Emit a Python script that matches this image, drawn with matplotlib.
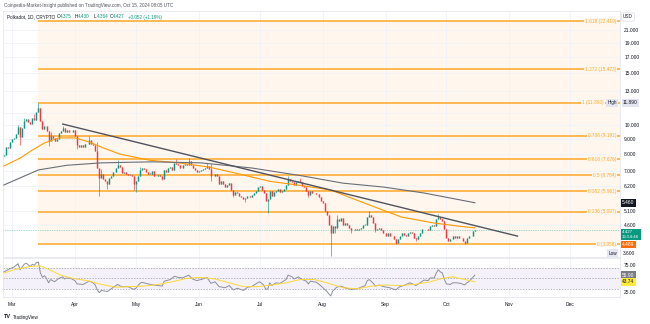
import matplotlib
matplotlib.use('Agg')
import matplotlib.pyplot as plt
import matplotlib.dates as mdates
import matplotlib.ticker as mticker
from matplotlib.transforms import blended_transform_factory
import numpy as np
import pandas as pd

plt.rcParams['font.family'] = ['Liberation Sans', 'DejaVu Sans']

# ---------------- data ----------------
start_date = '2024-02-26'
first_open = 7.85
closes = [
    # Feb 26-29
    7.95, 8.40, 8.35, 8.75,
    # Mar
    8.95, 9.05, 9.30, 9.85, 9.10, 9.75, 10.35, 10.45, 10.25, 10.05, 10.55, 10.40, 11.10, 11.45, 10.30, 9.70,
    9.95, 9.55, 8.80, 9.20, 9.05, 8.85, 9.00, 9.40, 9.55, 9.75, 9.45, 9.65, 9.45, 9.50, 9.60,
    # Apr
    9.20, 8.55, 8.45, 8.55, 8.40, 8.60, 8.65, 8.90, 8.60, 8.55, 8.20, 7.15, 6.60, 6.85, 6.55, 6.45,
    6.30, 6.60, 6.70, 6.95, 7.15, 7.35, 7.20, 6.90, 6.95, 6.85, 6.80, 6.80, 6.70, 6.30,
    # May
    6.45, 6.75, 7.05, 7.15, 7.10, 6.95, 6.85, 6.85, 7.00, 6.75, 6.70, 6.80, 6.75, 6.55, 7.05, 6.95,
    7.15, 7.20, 7.05, 7.45, 7.40, 7.35, 7.15, 7.30, 7.40, 7.35, 7.55, 7.30, 7.15, 7.05, 6.95,
    # Jun
    7.00, 7.05, 7.10, 7.15, 7.25, 7.10, 6.70, 6.75, 6.85, 6.70, 6.30, 6.45, 6.30, 6.15, 6.25, 6.35,
    6.05, 5.80, 5.95, 5.90, 5.75, 5.70, 5.60, 5.65, 5.75, 5.70, 5.80, 5.90, 6.00, 6.15,
    # Jul
    6.20, 6.05, 5.90, 5.55, 5.60, 6.00, 5.75, 5.95, 6.00, 6.10, 5.95, 6.00, 6.10, 6.25, 6.55, 6.45,
    6.40, 6.25, 6.40, 6.45, 6.40, 6.20, 6.15, 6.00, 5.80, 6.00, 5.90, 5.90, 5.85, 5.70, 5.55,
    # Aug
    5.45, 5.10, 4.95, 4.60, 4.30, 4.55, 4.50, 4.80, 4.75, 4.85, 4.60, 4.65, 4.60, 4.50, 4.40, 4.40,
    4.45, 4.40, 4.45, 4.50, 4.60, 4.60, 4.90, 4.95, 4.90, 4.65, 4.40, 4.45, 4.50, 4.40, 4.30,
    # Sep
    4.20, 4.30, 4.20, 4.20, 4.10, 3.98, 4.10, 4.20, 4.30, 4.25, 4.20, 4.30, 4.35, 4.30, 4.15, 4.10,
    4.20, 4.30, 4.45, 4.45, 4.45, 4.40, 4.55, 4.60, 4.55, 4.80, 4.90, 4.80, 4.75, 4.45,
    # Oct 1-15
    4.15, 4.05, 4.10, 4.20, 4.15, 4.20, 4.15, 4.15, 4.05, 4.00, 4.15, 4.20, 4.20, 4.375, 4.427,
]

wick_highs = {
    '2024-03-04': 10.0, '2024-03-07': 10.6, '2024-03-12': 10.9, '2024-03-14': 11.89,
    '2024-03-15': 11.3, '2024-03-20': 9.5, '2024-03-26': 9.95, '2024-04-08': 9.2,
    '2024-04-12': 8.75, '2024-04-14': 7.1, '2024-04-22': 7.6, '2024-05-03': 7.2,
    '2024-05-21': 7.7, '2024-05-27': 7.75, '2024-06-05': 7.45, '2024-06-07': 7.4,
    '2024-07-15': 6.75, '2024-07-21': 6.6, '2024-08-08': 4.95, '2024-08-24': 5.1,
    '2024-09-27': 5.0, '2024-10-15': 4.43,
}
wick_lows = {
    '2024-03-05': 8.55, '2024-03-19': 8.5, '2024-04-02': 8.3, '2024-04-13': 5.75,
    '2024-04-17': 6.1, '2024-04-30': 6.05, '2024-05-01': 5.95, '2024-05-14': 6.5,
    '2024-06-07': 6.45, '2024-06-18': 5.7, '2024-06-24': 5.5, '2024-07-05': 5.05,
    '2024-07-25': 5.7, '2024-08-05': 3.60, '2024-08-07': 4.3, '2024-08-15': 4.3,
    '2024-08-27': 4.35, '2024-09-06': 3.958, '2024-09-16': 4.05, '2024-10-10': 3.97,
    '2024-10-15': 4.364,
}

ma_fast_dates = ['2024-02-26', '2024-03-05', '2024-03-11', '2024-03-17', '2024-03-24', '2024-04-01',
                 '2024-04-08', '2024-04-15', '2024-04-23', '2024-05-08', '2024-05-22', '2024-06-06',
                 '2024-06-21', '2024-07-06', '2024-07-21', '2024-08-05', '2024-08-15', '2024-08-28',
                 '2024-09-09', '2024-09-25', '2024-10-07', '2024-10-15']
ma_fast_vals = [7.27, 7.73, 8.23, 8.70, 9.05, 9.05, 8.77, 8.37, 7.98, 7.60, 7.45, 7.21,
                6.83, 6.45, 6.25, 6.03, 5.67, 5.24, 4.88, 4.66, 4.55, 4.489]

ma_slow_dates = ['2024-02-26', '2024-03-14', '2024-03-28', '2024-04-14', '2024-05-09', '2024-06-02',
                 '2024-06-27', '2024-07-22', '2024-08-11', '2024-08-31', '2024-09-20', '2024-10-15']
ma_slow_vals = [6.27, 7.05, 7.31, 7.45, 7.51, 7.45, 7.16, 6.73, 6.36, 6.17, 5.89, 5.46]

trend_dates = ['2024-03-26', '2024-11-05']
trend_vals = [10.08, 4.21]

fib_ratios = ['1.618', '1.272', '1', '0.786', '0.618', '0.5', '0.382', '0.236', '0']
fib_prices = [22.419, 15.473, 11.890, 9.191, 7.676, 6.764, 5.961, 5.097, 3.958]
fib_start = '2024-03-14'

rsi_dates = ['2024-02-26', '2024-02-29', '2024-03-02', '2024-03-04', '2024-03-05', '2024-03-07', '2024-03-08',
             '2024-03-10', '2024-03-11', '2024-03-12', '2024-03-13', '2024-03-14', '2024-03-15', '2024-03-16',
             '2024-03-17', '2024-03-18', '2024-03-19', '2024-03-20', '2024-03-22', '2024-03-24', '2024-03-26',
             '2024-03-27', '2024-03-28', '2024-03-30', '2024-04-01', '2024-04-02', '2024-04-05', '2024-04-08',
             '2024-04-10', '2024-04-11', '2024-04-12', '2024-04-13', '2024-04-14', '2024-04-17', '2024-04-20',
             '2024-04-22', '2024-04-24', '2024-04-27', '2024-04-30', '2024-05-01', '2024-05-03', '2024-05-04',
             '2024-05-07', '2024-05-10', '2024-05-14', '2024-05-15', '2024-05-18', '2024-05-20', '2024-05-22',
             '2024-05-24', '2024-05-27', '2024-05-29', '2024-05-31', '2024-06-03', '2024-06-05', '2024-06-07',
             '2024-06-09', '2024-06-11', '2024-06-14', '2024-06-16', '2024-06-18', '2024-06-20', '2024-06-23',
             '2024-06-25', '2024-06-27', '2024-06-30', '2024-07-01', '2024-07-03', '2024-07-04', '2024-07-05',
             '2024-07-06', '2024-07-07', '2024-07-09', '2024-07-11', '2024-07-14', '2024-07-15', '2024-07-17',
             '2024-07-18', '2024-07-20', '2024-07-22', '2024-07-24', '2024-07-25', '2024-07-26', '2024-07-29',
             '2024-07-31', '2024-08-02', '2024-08-03', '2024-08-04', '2024-08-05', '2024-08-06', '2024-08-08',
             '2024-08-10', '2024-08-12', '2024-08-15', '2024-08-18', '2024-08-20', '2024-08-22', '2024-08-23',
             '2024-08-24', '2024-08-26', '2024-08-27', '2024-08-29', '2024-08-31', '2024-09-03', '2024-09-06',
             '2024-09-08', '2024-09-10', '2024-09-13', '2024-09-16', '2024-09-18', '2024-09-20', '2024-09-22',
             '2024-09-23', '2024-09-25', '2024-09-26', '2024-09-27', '2024-09-28', '2024-09-29', '2024-09-30',
             '2024-10-01', '2024-10-03', '2024-10-04', '2024-10-06', '2024-10-08', '2024-10-10', '2024-10-11',
             '2024-10-12', '2024-10-14', '2024-10-15']
rsi_vals = [62, 68, 71, 77, 66, 76, 78,
            72, 76, 74, 79, 80, 60, 52,
            55, 50, 42, 48, 44, 50, 53,
            49, 51, 50, 46, 40, 39, 45,
            42, 38, 29, 24, 28, 26, 34,
            39, 35, 35, 30, 32, 41, 43,
            40, 38, 36, 45, 48, 54, 52,
            51, 56, 49, 46, 49, 52, 41,
            44, 35, 33, 37, 29, 32, 28,
            34, 35, 42, 44, 38, 30, 31,
            42, 37, 42, 41, 48, 56, 53,
            49, 53, 48, 45, 40, 45, 43,
            37, 30, 27, 22, 18, 27, 34,
            36, 33, 30, 31, 34, 37, 46,
            48, 41, 36, 38, 35, 33, 29,
            35, 37, 42, 37, 42, 47, 46,
            51, 51, 60, 66, 62, 60, 48,
            40, 39, 42, 42, 41, 38, 42,
            44, 52, 55.9]

rsi_ma_dates = ['2024-02-26', '2024-03-03', '2024-03-10', '2024-03-15', '2024-03-20', '2024-03-25', '2024-03-31',
                '2024-04-07', '2024-04-14', '2024-04-21', '2024-04-28', '2024-05-05', '2024-05-12', '2024-05-19',
                '2024-05-26', '2024-06-02', '2024-06-09', '2024-06-16', '2024-06-23', '2024-06-30', '2024-07-07',
                '2024-07-14', '2024-07-21', '2024-07-28', '2024-08-04', '2024-08-11', '2024-08-18', '2024-08-25',
                '2024-09-01', '2024-09-08', '2024-09-15', '2024-09-22', '2024-09-29', '2024-10-04', '2024-10-09',
                '2024-10-15']
rsi_ma_vals = [60, 67, 72, 73, 65, 56, 50,
               46, 39, 34, 35, 36, 39, 44,
               50, 52, 49, 42, 35, 35, 38,
               42, 48, 48, 41, 33, 31, 36,
               38, 37, 39, 43, 50, 53, 49,
               43.74]

month_ticks = ['2024-03-01', '2024-04-01', '2024-05-01', '2024-06-01', '2024-07-01', '2024-08-01',
               '2024-09-01', '2024-10-01', '2024-11-01', '2024-12-01']
month_labels = ['Mar', 'Apr', 'May', 'Jun', 'Jul', 'Aug', 'Sep', 'Oct', 'Nov', 'Dec']
price_ticks = [21, 19, 17, 15, 13, 10, 9, 8, 7, 6.2, 5.1, 4.6]

# ---------------- derived candle fields ----------------
dates = pd.date_range(start_date, periods=len(closes), freq='D')
xs = mdates.date2num(dates)
opens = [first_open] + closes[:-1]
highs = [max(o, c) for o, c in zip(opens, closes)]
lows = [min(o, c) for o, c in zip(opens, closes)]
for d, v in wick_highs.items():
    i = (pd.Timestamp(d) - dates[0]).days
    highs[i] = max(highs[i], v)
for d, v in wick_lows.items():
    i = (pd.Timestamp(d) - dates[0]).days
    lows[i] = min(lows[i], v)

def dn(s):
    return mdates.date2num(pd.Timestamp(s))

# ---------------- figure ----------------
W, H = 650, 324
fig = plt.figure(figsize=(6.5, 3.24), dpi=100)
fig.patch.set_facecolor('white')

def px_rect(l, t, r, b):
    return [l / W, 1 - b / H, (r - l) / W, (b - t) / H]

ax = fig.add_axes(px_rect(3, 11, 620, 257))
axr = fig.add_axes(px_rect(3, 258, 620, 297), sharex=ax)

mar1 = dn('2024-03-01')
ppd = 2.03
x_left = mar1 + (3 - 12) / ppd
x_right = mar1 + (620 - 12) / ppd
ax.set_xlim(x_left, x_right)

ax.set_yscale('log')
ax.set_ylim(3.577, 24.33)

up_c, dn_c = '#089981', '#f23645'
grid_c = '#f0f3fa'
fib_c = '#ffa726'
bg_fib = '#fff7ee'

# fib background
ax.fill_between([dn(fib_start), x_right], fib_prices[-1], fib_prices[0],
                color=bg_fib, lw=0, zorder=0)

# grid
for m in month_ticks:
    ax.axvline(dn(m), color=grid_c, lw=0.6, zorder=0.5)
    axr.axvline(dn(m), color=grid_c, lw=0.6, zorder=0.5)
for p in price_ticks + [11]:
    ax.axhline(p, color=grid_c, lw=0.6, zorder=0.5)

# fib lines + labels
blend = blended_transform_factory(ax.transAxes, ax.transData)
for r, p in zip(fib_ratios, fib_prices):
    ax.plot([dn(fib_start), x_right], [p, p], color=fib_c, lw=1.1, zorder=2, solid_capstyle='butt')
    xr = 604 if r == '1' else 616
    ax.text((xr - 3) / 617, p, f'{r} ({p:.3f})', transform=blend, ha='right', va='center',
            fontsize=3.4, color=fib_c, zorder=6,
            bbox=dict(boxstyle='square,pad=0.2', fc=bg_fib, ec='none'))

# current price line
ax.axhline(closes[-1], color=up_c, lw=0.5, ls=(0, (1, 1.5)), alpha=0.7, zorder=1)

# candles
cols = [up_c if c >= o else dn_c for o, c in zip(opens, closes)]
ax.vlines(xs, lows, highs, colors=cols, lw=0.45, zorder=3)
ax.vlines(xs, [min(o, c) for o, c in zip(opens, closes)],
          [max(o, c) * 1.002 if abs(c - o) < 1e-9 else max(o, c) for o, c in zip(opens, closes)],
          colors=cols, lw=1.05, zorder=3.1)

# moving averages
ax.plot(mdates.date2num(pd.to_datetime(ma_fast_dates)), ma_fast_vals, color='#ff9800', lw=0.8, zorder=4)
ax.plot(mdates.date2num(pd.to_datetime(ma_slow_dates)), ma_slow_vals, color='#6a6d78', lw=0.8, zorder=4)
# trend line
ax.plot(mdates.date2num(pd.to_datetime(trend_dates)), trend_vals, color='#50535e', lw=1.0, zorder=5)

# price axis
ax.yaxis.tick_right()
ax.yaxis.set_major_locator(mticker.FixedLocator(price_ticks))
ax.yaxis.set_minor_locator(mticker.NullLocator())
ax.yaxis.set_major_formatter(mticker.FormatStrFormatter('%.3f'))
ax.tick_params(axis='y', length=0, labelsize=3.5, pad=3, labelcolor='#131722')
ax.tick_params(axis='x', length=0, labelbottom=False)
for s in ax.spines.values():
    s.set_color('#e0e3eb')
    s.set_linewidth(0.5)

# axis labels / tags
def tag(axis, y, text, fc, tc, xpx=622, ha='left', fs=3.5, ec='none'):
    tr = blended_transform_factory(axis.transAxes, axis.transData)
    axis.text((xpx - 3) / 617, y, text, transform=tr, ha=ha, va='center', fontsize=fs, color=tc,
              zorder=10, clip_on=False,
              bbox=dict(boxstyle='square,pad=0.3', fc=fc, ec=ec, lw=0.4))

def py(ypx):
    # price value located at a given pixel row of the price pane
    return float(np.exp((420.5 - ypx) / 128.3))

tag(ax, 11.89, 'High', '#e3e6f0', '#131722', xpx=617, ha='right', fs=3.3)
tag(ax, 11.89, '11.890', '#e3e6f0', '#131722', xpx=623)
tag(ax, ma_slow_vals[-1], f'{ma_slow_vals[-1]:.3f}', '#131722', 'white', xpx=622)
tag(ax, py(234.5), f'{closes[-1]:.3f}\n15:54:46', up_c, 'white', xpx=622, fs=3.2)
tag(ax, py(244.5), f'{ma_fast_vals[-1]:.3f}', '#ff6d00', 'white', xpx=622)
tag(ax, py(253), 'Low', '#e3e6f0', '#131722', xpx=617, ha='right', fs=3.3)
tag(ax, py(253), '3.600', 'white', '#131722', xpx=623)

fig.text(628 / W, 1 - 17 / H, 'USD', fontsize=3.3, color='#131722', ha='center', va='center',
         bbox=dict(boxstyle='round,pad=0.35', fc='white', ec='#d1d4dc', lw=0.4))

# ---------------- RSI pane ----------------
axr.set_ylim(16, 87.5)
axr.axhspan(30, 70, color='#7e57c2', alpha=0.08, lw=0, zorder=0)
for lv in (70, 50, 30):
    axr.axhline(lv, color='#9598a1', lw=0.5, ls=(0, (2, 2)), zorder=1)
axr.plot(mdates.date2num(pd.to_datetime(rsi_dates)), rsi_vals, color='#8c8f9c', lw=0.7, zorder=3)
axr.plot(mdates.date2num(pd.to_datetime(rsi_ma_dates)), rsi_ma_vals, color='#fdd835', lw=0.7, zorder=3)
axr.yaxis.tick_right()
axr.yaxis.set_major_locator(mticker.FixedLocator([75, 25]))
axr.yaxis.set_major_formatter(mticker.FormatStrFormatter('%.2f'))
axr.tick_params(axis='y', length=0, labelsize=3.5, pad=3, labelcolor='#131722')
axr.xaxis.set_major_locator(mticker.FixedLocator(mdates.date2num(pd.to_datetime(month_ticks))))
axr.xaxis.set_major_formatter(mticker.FixedFormatter(month_labels))
axr.tick_params(axis='x', length=0, labelsize=3.5, pad=3.5, labelcolor='#131722')
for s in axr.spines.values():
    s.set_color('#e0e3eb')
    s.set_linewidth(0.5)
tag(axr, rsi_vals[-1], f'{rsi_vals[-1]:.2f}', '#787b86', 'white', xpx=622)
tag(axr, rsi_ma_vals[-1], f'{rsi_ma_vals[-1]:.2f}', '#ffeb3b', '#131722', xpx=622)

# ---------------- header / legend ----------------
fig.text(4 / W, 1 - 6 / H, 'Coinpedia-Market-Insight published on TradingView.com, Oct 15, 2024 08:05 UTC',
         fontsize=3.3, color='#50535e', ha='left', va='center')
ly = 1 - 17 / H
fig.text(7 / W, ly, 'Polkadot, 1D, CRYPTO', fontsize=3.3, color='#131722', ha='left', va='center')
for lab, val, xp in [('O', '4.375', 57), ('H', '4.430', 75), ('L', '4.364', 94), ('C', '4.427', 110)]:
    fig.text(xp / W, ly, lab, fontsize=3.3, color='#131722', ha='left', va='center')
    fig.text((xp + 3.2) / W, ly, val, fontsize=3.3, color=up_c, ha='left', va='center')
fig.text(128 / W, ly, '+0.052 (+1.19%)', fontsize=3.3, color=up_c, ha='left', va='center')

fig.text(4 / W, 1 - 317 / H, 'TV', fontsize=4, color='#131722', ha='left', va='center', weight='bold')
fig.text(13 / W, 1 - 317 / H, 'TradingView', fontsize=3.3, color='#131722', ha='left', va='center')

fig.savefig('out.png', dpi=100, facecolor='white')
